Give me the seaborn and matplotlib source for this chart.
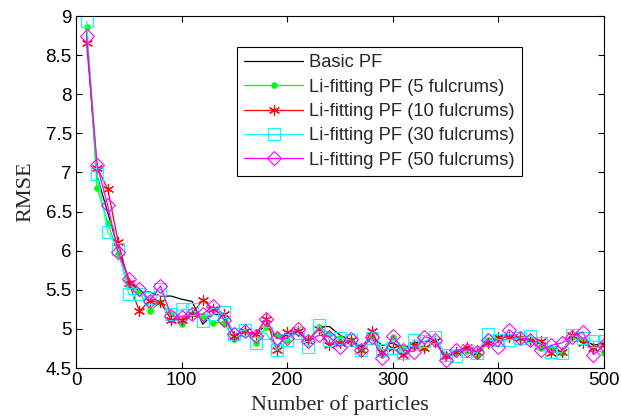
import numpy as np
import pandas as pd
import seaborn as sns
import matplotlib.pyplot as plt

# numero de particulas
particles = list(range(10, 510, 10))

basic_pf = [8.80, 6.95, 6.49, 6.02, 5.64, 5.47, 5.47, 5.42, 5.42, 5.38,
            5.35, 5.06, 5.19, 5.17, 4.93, 4.97, 4.93, 5.05, 4.88, 4.92,
            4.97, 4.84, 5.03, 5.03, 4.92, 4.86, 4.77, 4.90, 4.79, 4.82,
            4.75, 4.82, 4.84, 4.84, 4.65, 4.67, 4.72, 4.69, 4.86, 4.88,
            4.90, 4.88, 4.86, 4.82, 4.73, 4.71, 4.90, 4.88, 4.79, 4.82]

li_5 = [8.86, 6.80, 6.36, 5.96, 5.55, 5.47, 5.23, 5.34, 5.19, 5.06,
        5.19, 5.17, 5.08, 5.08, 4.87, 4.97, 4.82, 5.02, 4.92, 4.86,
        4.97, 4.86, 5.03, 4.94, 4.88, 4.86, 4.73, 4.90, 4.67, 4.90,
        4.75, 4.77, 4.75, 4.84, 4.67, 4.71, 4.72, 4.65, 4.86, 4.88,
        4.90, 4.88, 4.86, 4.75, 4.75, 4.69, 4.90, 4.86, 4.75, 4.69]

li_10 = [8.66, 7.06, 6.79, 6.11, 5.59, 5.23, 5.36, 5.34, 5.12, 5.12,
         5.19, 5.37, 5.25, 5.19, 4.91, 4.97, 4.93, 5.13, 4.73, 4.96,
         4.97, 4.84, 5.00, 4.79, 4.82, 4.86, 4.73, 4.97, 4.71, 4.75,
         4.67, 4.79, 4.75, 4.84, 4.65, 4.71, 4.77, 4.71, 4.82, 4.90,
         4.90, 4.88, 4.86, 4.84, 4.69, 4.71, 4.92, 4.82, 4.75, 4.79]

li_30 = [8.93, 6.98, 6.24, 6.02, 5.44, 5.44, 5.40, 5.51, 5.19, 5.25,
         5.25, 5.10, 5.19, 5.21, 4.93, 4.99, 4.82, 4.95, 4.73, 4.86,
         4.95, 4.77, 5.05, 4.86, 4.88, 4.86, 4.73, 4.88, 4.73, 4.75,
         4.69, 4.86, 4.84, 4.90, 4.67, 4.65, 4.72, 4.69, 4.94, 4.86,
         4.86, 4.88, 4.91, 4.82, 4.71, 4.69, 4.92, 4.88, 4.84, 4.84]

li_50 = [8.74, 7.09, 6.58, 5.98, 5.64, 5.51, 5.36, 5.55, 5.17, 5.15,
         5.19, 5.19, 5.29, 5.12, 4.93, 4.97, 4.91, 5.13, 4.88, 4.88,
         5.00, 4.84, 4.92, 4.90, 4.77, 4.87, 4.73, 4.90, 4.63, 4.91,
         4.73, 4.71, 4.90, 4.86, 4.60, 4.73, 4.73, 4.71, 4.86, 4.77,
         4.99, 4.88, 4.86, 4.73, 4.79, 4.82, 4.90, 4.96, 4.67, 4.79]

series_names = ["Basic PF",
                "Li-fitting PF (5 fulcrums)",
                "Li-fitting PF (10 fulcrums)",
                "Li-fitting PF (30 fulcrums)",
                "Li-fitting PF (50 fulcrums)"]

data = pd.DataFrame({"particles": particles,
                     series_names[0]: basic_pf,
                     series_names[1]: li_5,
                     series_names[2]: li_10,
                     series_names[3]: li_30,
                     series_names[4]: li_50})

sns.set_style("ticks")
plt.rcParams['font.family'] = ['Liberation Sans', 'DejaVu Sans']
plt.rcParams['xtick.direction'] = 'in'
plt.rcParams['ytick.direction'] = 'in'

fig = plt.figure(figsize=(6.21, 4.2), dpi=100)
ax = fig.add_axes([0.1224, 0.1238, 0.8502, 0.8381])

colores = ["black", (0, 1, 0), (1, 0, 0), (0, 1, 1), (1, 0, 1)]
# estilo de marcadores tipo matlab
marcadores = [
    dict(marker="None"),
    dict(marker="o", markersize=4, markerfacecolor=(0, 1, 0), markeredgecolor=(0, 1, 0)),
    dict(marker=(6, 2, 0), markersize=8, markeredgewidth=0.8),
    dict(marker="s", markersize=8, markerfacecolor="none", markeredgewidth=0.8),
    dict(marker="D", markersize=7, markerfacecolor="none", markeredgewidth=0.8),
]

for nombre, col, mk in zip(series_names, colores, marcadores):
    sns.lineplot(data=data, x="particles", y=nombre, ax=ax, label=nombre, color=col)
    line = ax.lines[-1]
    line.set_linewidth(0.9)
    line.set_linestyle("-")
    line.set(**mk)
    line.set_markeredgecolor(col)

ax.set_xlim(0, 500)
ax.set_ylim(4.5, 9)
ax.set_xticks(range(0, 501, 100))
ax.set_yticks(np.arange(4.5, 9.01, 0.5))
ax.set_yticklabels(["4.5", "5", "5.5", "6", "6.5", "7", "7.5", "8", "8.5", "9"])
ax.tick_params(labelsize=13.5, top=True, right=True, length=4, width=0.8,
               colors="black", pad=3)
for s in ax.spines.values():
    s.set_visible(True)
    s.set_linewidth(0.8)
    s.set_color("black")

ax.set_xlabel("Number of particles", fontsize=16, family=["Liberation Serif"], labelpad=4)
ax.set_ylabel("RMSE", fontsize=16, family=["Liberation Serif"], labelpad=7)

leg = ax.legend(loc="upper left", bbox_to_anchor=(0.305, 0.912), fontsize=13.2,
                frameon=True, fancybox=False, edgecolor="black", framealpha=1,
                borderpad=0.4, labelspacing=0.4, handlelength=3.2, handletextpad=0.35,
                borderaxespad=0)
leg.get_frame().set_linewidth(0.8)
for h, mk, col in zip(leg.get_lines(), marcadores, colores):
    h.set_linestyle("-")
    h.set_linewidth(0.9)
    h.set(**mk)
    h.set_markeredgecolor(col)

fig.savefig("out.png", dpi=100)
plt.close()
